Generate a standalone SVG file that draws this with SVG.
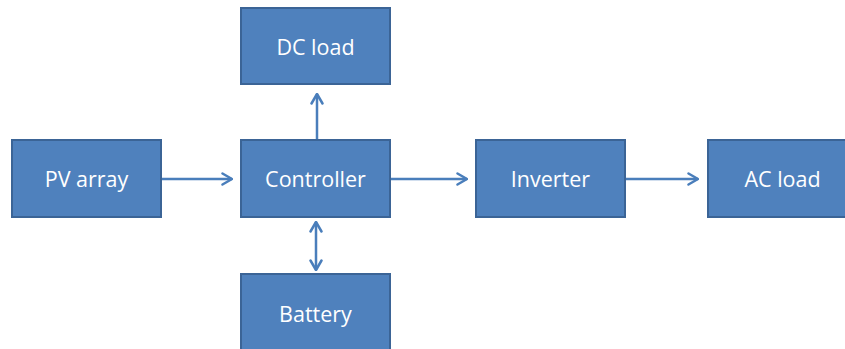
<svg xmlns="http://www.w3.org/2000/svg" width="845" height="349" viewBox="0 0 845 349">
<style>
.box{fill:#4F81BD;stroke:#3B6496;stroke-width:2}
.lbl{fill:#FFFFFF;font-family:"Open Sans","Liberation Sans",sans-serif;font-size:21.5px;text-anchor:middle}
.c{stroke:#4A7EBB;stroke-width:2.5;fill:none}
</style>
<defs>
<marker id="ah" viewBox="0 0 12 14" refX="11" refY="7" markerWidth="12" markerHeight="14" markerUnits="userSpaceOnUse" orient="auto-start-reverse">
<path d="M1.5,1.5 L11,7 L1.5,12.5" fill="none" stroke="#4A7EBB" stroke-width="2.5" stroke-linecap="round" stroke-linejoin="round"/>
</marker>
</defs>
<rect width="845" height="349" fill="#FFFFFF"/>
<g id="connectors">
<line class="c" x1="162" y1="179" x2="232" y2="179" marker-end="url(#ah)"/>
<line class="c" x1="391" y1="179" x2="467" y2="179" marker-end="url(#ah)"/>
<line class="c" x1="626" y1="179" x2="698" y2="179" marker-end="url(#ah)"/>
<line class="c" x1="317" y1="140" x2="317" y2="94" marker-end="url(#ah)"/>
<line class="c" x1="316" y1="222" x2="316" y2="270" marker-start="url(#ah)" marker-end="url(#ah)"/>
</g>
<g id="pv"><rect class="box" x="12" y="140" width="149" height="77"/><text class="lbl" x="86.5" y="187">PV array</text></g>
<g id="controller"><rect class="box" x="241" y="140" width="149" height="77"/><text class="lbl" x="315.5" y="187">Controller</text></g>
<g id="dcload"><rect class="box" x="241" y="8" width="149" height="76"/><text class="lbl" x="315.5" y="55">DC load</text></g>
<g id="battery"><rect class="box" x="241" y="274" width="149" height="80"/><text class="lbl" x="315.5" y="322">Battery</text></g>
<g id="inverter"><rect class="box" x="476" y="140" width="149" height="77"/><text class="lbl" x="550.5" y="187">Inverter</text></g>
<g id="acload"><rect class="box" x="708" y="140" width="149" height="77"/><text class="lbl" x="782.5" y="187">AC load</text></g>
</svg>
